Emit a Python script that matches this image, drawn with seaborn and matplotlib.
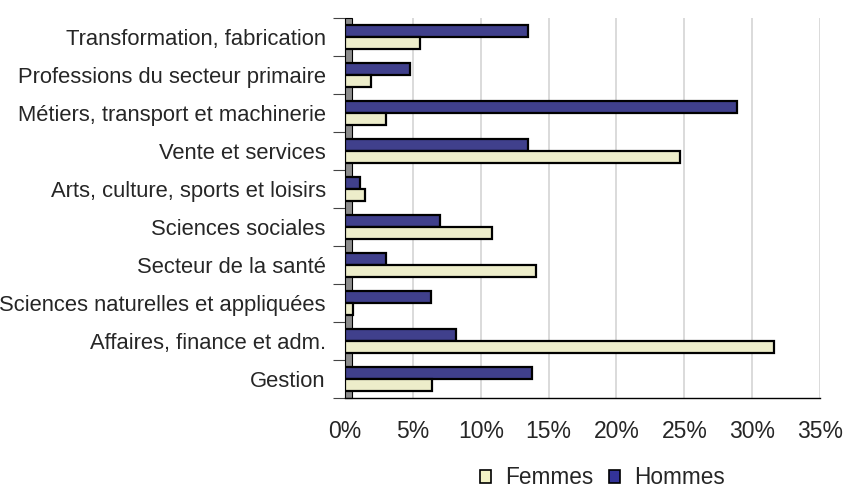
import numpy as np
import pandas as pd
import seaborn as sns
import matplotlib.pyplot as plt
from matplotlib.patches import Patch, Rectangle
from matplotlib.ticker import FixedLocator, FuncFormatter

# categories, top to bottom
categories = ['Transformation, fabrication', 'Professions du secteur primaire',
              'Métiers, transport et machinerie', 'Vente et services',
              'Arts, culture, sports et loisirs', 'Sciences sociales',
              'Secteur de la santé', 'Sciences naturelles et appliquées',
              'Affaires, finance et adm.', 'Gestion']
femmes = [5.5, 1.9, 3.0, 24.7, 1.5, 10.8, 14.1, 0.6, 31.6, 6.4]
hommes = [13.5, 4.8, 28.9, 13.5, 1.1, 7.0, 3.0, 6.3, 8.2, 13.8]
x_ticks = [0, 5, 10, 15, 20, 25, 30, 35]

col_f = '#F3F3C4'
col_h = '#333399'

df = pd.DataFrame({
    'cat': categories * 2,
    'val': hommes + femmes,
    'sexe': ['Hommes'] * len(categories) + ['Femmes'] * len(categories),
})

sns.set_style('white')
plt.rcParams['font.family'] = ['Liberation Sans', 'DejaVu Sans']

fig = plt.figure(figsize=(8.48, 4.91), dpi=100)
ax = fig.add_axes([0.407, 0.189, 0.560, 0.775])

sns.barplot(data=df, x='val', y='cat', hue='sexe', hue_order=['Hommes', 'Femmes'],
            order=categories, palette=[col_h, col_f], width=0.64, orient='h',
            edgecolor='black', linewidth=1.6, ax=ax, legend=False, zorder=3)

# grey side wall
ax.add_patch(Rectangle((0, 0), 0.015, 1, transform=ax.transAxes, facecolor='#8c8c8c',
                       edgecolor='black', linewidth=0.8, zorder=2, clip_on=False))

ax.set_xlim(0, 35)
ax.set_ylim(len(categories) - 0.5, -0.5)
ax.xaxis.set_major_locator(FixedLocator(x_ticks))
ax.xaxis.set_major_formatter(FuncFormatter(lambda v, p: f'{v:.0f}%'))
ax.grid(axis='x', color='#d4d4d4', linewidth=1.2, zorder=0)
ax.set_axisbelow(True)

ax.set_xlabel('')
ax.set_ylabel('')
for s in ['top', 'right']:
    ax.spines[s].set_visible(False)
ax.spines['left'].set_visible(False)
ax.spines['bottom'].set_color('black')
ax.spines['bottom'].set_linewidth(1)

ax.tick_params(axis='x', length=7, width=0.8, color='#555555', labelsize=16.5, pad=9)
ax.tick_params(axis='y', which='major', length=0, labelsize=15.8, pad=14)
ax.yaxis.set_minor_locator(FixedLocator(np.arange(-0.5, len(categories), 1.0)))
ax.tick_params(axis='y', which='minor', length=9, width=0.8, color='#444444', left=True)

handles = [Patch(facecolor=col_f, edgecolor='black', linewidth=1.2, label='Femmes'),
           Patch(facecolor=col_h, edgecolor='black', linewidth=1.2, label='Hommes')]
fig.legend(handles=handles, loc='center', bbox_to_anchor=(0.71, 0.027), ncol=2,
           frameon=False, fontsize=16.3, handlelength=0.5, handleheight=0.5,
           handletextpad=0.6, columnspacing=0.7, borderpad=0)

fig.savefig('out.png', dpi=100)
